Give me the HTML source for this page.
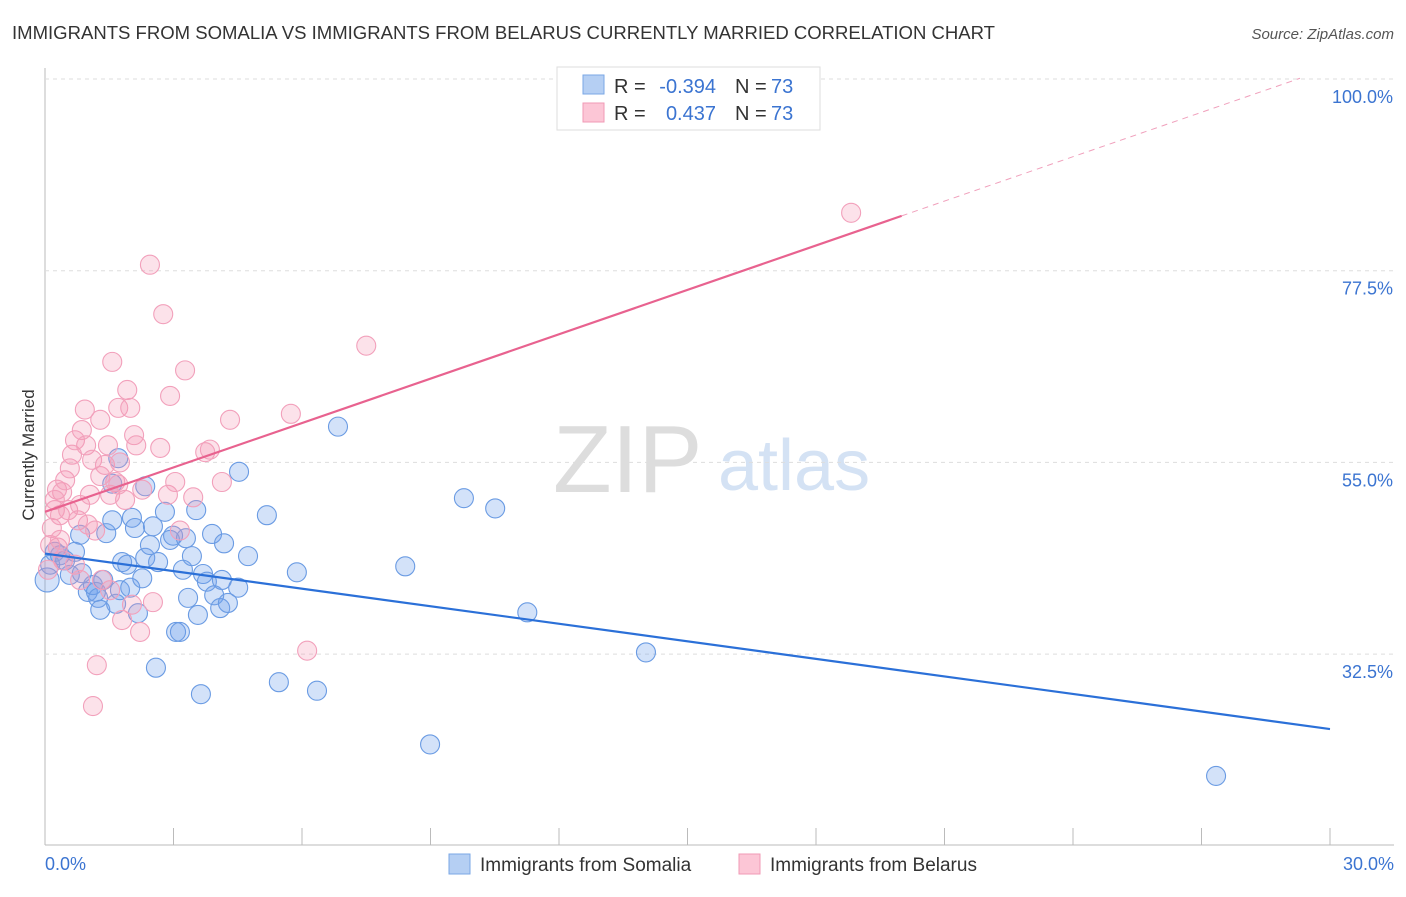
<!DOCTYPE html>
<html><head><meta charset="utf-8"><style>
body{margin:0;background:#fff;font-family:"Liberation Sans",sans-serif;}
svg text{font-family:"Liberation Sans",sans-serif;}
</style></head><body>
<svg id="c" width="1406" height="892" xmlns="http://www.w3.org/2000/svg">
<text x="12" y="39" font-size="18" fill="#333" textLength="983" lengthAdjust="spacingAndGlyphs">IMMIGRANTS FROM SOMALIA VS IMMIGRANTS FROM BELARUS CURRENTLY MARRIED CORRELATION CHART</text>
<text x="1394" y="39" font-size="15" fill="#555" text-anchor="end" font-style="italic">Source: ZipAtlas.com</text>
<text x="34" y="455" font-size="17" fill="#333" text-anchor="middle" transform="rotate(-90 34 455)">Currently Married</text>
<g><text x="553" y="492" font-size="96" fill="#ddd" font-family="Liberation Serif">ZIP</text><text x="718" y="490" font-size="72" fill="#d4e2f4">atlas</text></g>
<g id="grid"></g><g id="pts"></g><g id="trend"></g>
<g>
<rect x="557" y="67" width="263" height="63" fill="#fff" stroke="#ddd"/>
<rect x="583" y="75" width="21" height="19" fill="#b5cff3" stroke="#7aa7e6"/>
<rect x="583" y="103" width="21" height="19" fill="#fcc6d6" stroke="#f09ab5"/>
<text x="614" y="93" font-size="20" fill="#333">R =</text>
<text x="716" y="93" font-size="20" fill="#3b74d1" text-anchor="end">-0.394</text>
<text x="735" y="93" font-size="20" fill="#333">N =</text>
<text x="771" y="93" font-size="20" fill="#3b74d1">73</text>
<text x="614" y="120" font-size="20" fill="#333">R =</text>
<text x="716" y="120" font-size="20" fill="#3b74d1" text-anchor="end">0.437</text>
<text x="735" y="120" font-size="20" fill="#333">N =</text>
<text x="771" y="120" font-size="20" fill="#3b74d1">73</text>
</g>
<g>
<rect x="449" y="854" width="21" height="20" fill="#b5cff3" stroke="#7aa7e6"/>
<text x="480" y="871" font-size="19" fill="#333">Immigrants from Somalia</text>
<rect x="739" y="854" width="21" height="20" fill="#fcc6d6" stroke="#f09ab5"/>
<text x="770" y="871" font-size="19" fill="#333">Immigrants from Belarus</text>
</g>
</svg>
<script>
const xTicks=[0,3,6,9,12,15,18,21,24,27,30];
const yTicks=[32.5,55,77.5,100];
const yTickLabels=["32.5%","55.0%","77.5%","100.0%"];
const blueX=[0.05,0.12,0.23,0.35,0.47,0.58,0.70,0.82,0.86,1.00,1.12,1.19,1.24,1.29,1.36,1.43,1.57,1.66,1.75,1.80,1.92,1.99,2.03,2.10,2.17,2.27,2.34,2.34,2.45,2.52,2.59,2.64,2.80,2.92,2.99,3.06,3.15,3.22,3.29,3.34,3.43,3.53,3.57,3.64,3.69,3.78,3.90,3.95,4.09,4.13,4.18,4.27,4.51,4.53,4.74,5.18,5.46,5.88,6.35,6.84,8.41,8.99,9.78,10.51,11.26,14.03,27.34,1.71,1.57];
const blueY=[41.2,43.0,44.5,44.1,43.5,41.8,44.5,46.5,42.0,39.8,40.6,39.8,39.1,37.7,41.2,46.7,48.2,38.4,40.0,43.3,43.0,40.3,48.5,47.3,37.3,41.4,43.8,52.2,45.3,47.5,30.9,43.3,49.2,45.9,46.4,35.1,35.1,42.4,46.1,39.1,44.0,49.4,37.1,27.8,41.9,41.0,46.6,39.4,37.9,41.2,45.5,38.5,40.3,53.9,44.0,48.8,29.2,42.1,28.2,59.2,42.8,21.9,50.8,49.6,37.4,32.7,18.2,55.5,52.5];
const pinkX=[0.07,0.12,0.16,0.23,0.28,0.35,0.40,0.47,0.54,0.58,0.63,0.70,0.77,0.82,0.86,0.93,0.96,1.00,1.05,1.10,1.17,1.21,1.12,1.29,1.33,1.40,1.47,1.52,1.57,1.64,1.71,1.75,1.80,1.87,1.92,1.99,2.03,2.08,2.13,2.22,2.27,2.45,2.52,2.69,2.76,2.87,2.92,3.04,3.15,3.27,3.46,3.74,3.85,4.13,4.32,5.74,6.12,7.50,18.82,0.30,0.42,0.70,0.82,1.52,1.71,0.23,1.29,0.35];
const pinkY=[42.4,45.3,47.3,49.4,51.8,48.8,51.5,52.9,49.4,54.3,55.9,57.6,48.2,50.0,58.8,61.2,57.0,47.7,51.2,55.3,47.0,31.2,26.4,60.0,41.2,54.7,57.0,40.0,66.8,52.7,61.4,55.0,36.5,50.6,63.5,61.4,38.3,58.2,57.0,35.1,51.8,78.2,38.6,56.7,72.4,51.2,62.8,52.7,47.0,65.8,50.9,56.2,56.5,52.7,60.0,60.7,32.9,68.7,84.3,45.0,43.5,43.0,41.2,51.2,52.4,50.6,53.4,45.9];
const blueTrend=[44.3,23.7];
const pinkTrend=[49.2,101.3];
const pinkSolidEnd=20.0, pinkDashEnd=29.3;
const NS="http://www.w3.org/2000/svg";
const X=v=>45+v/30*1285;
const Y=v=>79+(100-v)/22.5*191.7;
function mk(t,a,p){const e=document.createElementNS(NS,t);for(const k in a)e.setAttribute(k,a[k]);p.appendChild(e);return e;}
const grid=document.getElementById('grid');
const ax=mk('line',{x1:45,y1:68,x2:45,y2:845,stroke:'#bbb'},grid);


const bx=mk('line',{x1:45,y1:845,x2:1394,y2:845,stroke:'#bbb'},grid);


yTicks.forEach((v,i)=>{
 const g=mk('line',{x1:45,y1:Y(v),x2:1394,y2:Y(v),stroke:'#ddd','stroke-dasharray':'4,4'},grid);
 
 
 const t=mk('text',{x:1393,y:Y(v)+24,'font-size':18,fill:'#3b74d1','text-anchor':'end'},grid);
 t.textContent=yTickLabels[i];
 
 
});
xTicks.forEach(v=>{
 const t=mk('line',{x1:X(v),y1:828,x2:X(v),y2:845,stroke:'#bbb'},grid);
 
 
});
const xl0=mk('text',{x:45,y:870,'font-size':18,fill:'#3b74d1'},grid);xl0.textContent=xTicks[0].toFixed(1)+'%';


const xl1=mk('text',{x:1394,y:870,'font-size':18,fill:'#3b74d1','text-anchor':'end'},grid);xl1.textContent=xTicks[xTicks.length-1].toFixed(1)+'%';


const pts=document.getElementById('pts');
blueX.forEach((v,i)=>{
 const c=mk('circle',{cx:X(v),cy:Y(blueY[i]),r:i==0?12:9.5,fill:'rgba(110,160,235,0.3)',stroke:'#6a9be3','stroke-width':1.1},pts);
 
 
});
pinkX.forEach((v,i)=>{
 const c=mk('circle',{cx:X(v),cy:Y(pinkY[i]),r:9.5,fill:'rgba(245,150,180,0.28)',stroke:'#f2a0bb','stroke-width':1.1},pts);
 
 
});
const tr=document.getElementById('trend');
const pl=x=>pinkTrend[0]+(pinkTrend[1]-pinkTrend[0])*x/30;
const b=mk('line',{x1:X(0),y1:Y(blueTrend[0]),x2:X(30),y2:Y(blueTrend[1]),stroke:'#2b70d8','stroke-width':2.2},tr);


const p=mk('line',{x1:X(0),y1:Y(pl(0)),x2:X(pinkSolidEnd),y2:Y(pl(pinkSolidEnd)),stroke:'#e8628f','stroke-width':2.2},tr);


const pd=mk('line',{x1:X(pinkSolidEnd),y1:Y(pl(pinkSolidEnd)),x2:X(pinkDashEnd),y2:Y(pl(pinkDashEnd)),stroke:'#f0a0bc','stroke-width':1,'stroke-dasharray':'6,5'},tr);


</script>
</body></html>
